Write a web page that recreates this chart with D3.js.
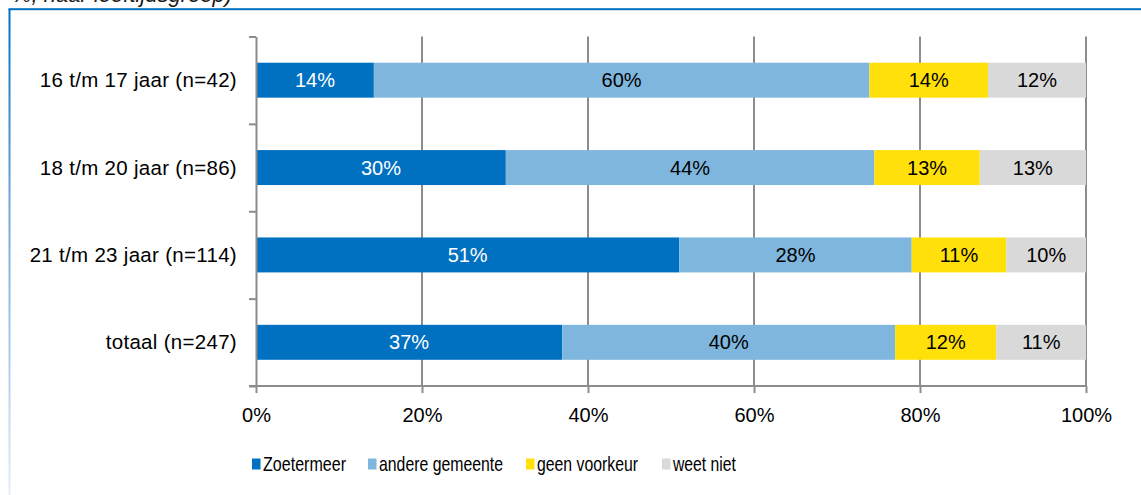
<!DOCTYPE html>
<html>
<head>
<meta charset="utf-8">
<script src="https://cdn.jsdelivr.net/npm/d3@7"></script>
<style>
  html, body { margin: 0; padding: 0; background: #fff; }
  svg { display: block; font-family: "Liberation Sans", Arial, sans-serif; }
</style>
</head>
<body>
<svg id="chart" width="1141" height="495"></svg>
<script>
const categories = ["16 t/m 17 jaar (n=42)", "18 t/m 20 jaar (n=86)", "21 t/m 23 jaar (n=114)", "totaal (n=247)"];
const seriesNames = ["Zoetermeer", "andere gemeente", "geen voorkeur", "weet niet"];
const zoetermeer = [14.2, 30.1, 51.0, 36.9];
const andereGemeente = [59.7, 44.4, 28.0, 40.1];
const geenVoorkeur = [14.3, 12.7, 11.4, 12.2];
const weetNiet = [11.8, 12.8, 9.6, 10.8];
const xTicks = [0, 20, 40, 60, 80, 100];
const titleText = "%, naar leeftijdsgroep)";

const colors = ["#0070C0", "#7FB6DE", "#FFE00A", "#D9D9D9"];
const labelColors = ["#ffffff", "#000000", "#000000", "#000000"];
const seriesValues = [zoetermeer, andereGemeente, geenVoorkeur, weetNiet];

const svg = d3.select("#chart");

// frame
const defs = svg.append("defs");
const grad = defs.append("linearGradient").attr("id", "leftGrad")
  .attr("x1", 0).attr("y1", 0).attr("x2", 0).attr("y2", 1);
grad.append("stop").attr("offset", "0%").attr("stop-color", "#0070C0");
grad.append("stop").attr("offset", "40%").attr("stop-color", "#6FA6DA");
grad.append("stop").attr("offset", "100%").attr("stop-color", "#E4EEF9");
svg.append("rect").attr("x", 8.5).attr("y", 9).attr("width", 2).attr("height", 486).attr("fill", "url(#leftGrad)");
svg.append("rect").attr("x", 8.5).attr("y", 8.2).attr("width", 1133).attr("height", 2).attr("fill", "#0070C0");

// cut-off title (only its lower part is visible in the reference)
svg.append("text").attr("x", 12).attr("y", 1.5)
  .attr("font-size", 22).attr("font-style", "italic").attr("fill", "#1a1a1a")
  .text(titleText);

const x = d3.scaleLinear().domain([0, 100]).range([256, 1086]);
const y = d3.scaleBand().domain(categories).range([36.5, 386]).paddingInner(0.6).paddingOuter(0.3);
const yb = d3.scaleLinear().domain([0, categories.length]).range([36.5, 386]);

// gridlines
svg.append("g").selectAll("line").data(xTicks.slice(1)).join("line")
  .attr("x1", d => x(d)).attr("x2", d => x(d))
  .attr("y1", 36.5).attr("y2", 386)
  .attr("stroke", "#8C8C8C").attr("stroke-width", 2);

// stacked data
const rows = categories.map((c, i) => {
  const o = { cat: c };
  seriesNames.forEach((s, j) => o[s] = seriesValues[j][i]);
  return o;
});
const stack = d3.stack().keys(seriesNames)(rows);

const layers = svg.append("g").selectAll("g").data(stack).join("g")
  .attr("fill", (d, i) => colors[i]);
layers.selectAll("rect").data(d => d).join("rect")
  .attr("x", d => x(d[0]))
  .attr("width", d => x(d[1]) - x(d[0]))
  .attr("y", d => y(d.data.cat))
  .attr("height", y.bandwidth());

// value labels
stack.forEach((layer, i) => {
  svg.append("g").selectAll("text").data(layer).join("text")
    .attr("x", d => (x(d[0]) + x(d[1])) / 2)
    .attr("y", d => y(d.data.cat) + y.bandwidth() / 2 + 7)
    .attr("text-anchor", "middle")
    .attr("font-size", 20)
    .attr("fill", labelColors[i])
    .text(d => Math.round(d[1] - d[0]) + "%");
});

// x axis
const xAxis = svg.append("g").attr("transform", "translate(0,386)")
  .call(d3.axisBottom(x).tickValues(xTicks).tickFormat(d => d + "%").tickSize(7).tickSizeOuter(0));
xAxis.select(".domain").attr("stroke", "#8C8C8C").attr("stroke-width", 2).attr("d", "M249,0H1086");
xAxis.selectAll(".tick line").attr("stroke", "#8C8C8C").attr("stroke-width", 2);
xAxis.selectAll(".tick text").attr("font-size", 20).attr("fill", "#000")
  .attr("font-family", "Liberation Sans, Arial, sans-serif").attr("dy", null).attr("y", 36);

// y axis
const yAxis = svg.append("g").attr("transform", "translate(256,0)")
  .call(d3.axisLeft(yb).ticks(categories.length).tickFormat("").tickSize(7).tickSizeOuter(0));
yAxis.select(".domain").attr("stroke", "#8C8C8C").attr("stroke-width", 2);
yAxis.selectAll(".tick line").attr("stroke", "#8C8C8C").attr("stroke-width", 2);

// category labels
svg.append("g").selectAll("text").data(categories).join("text")
  .attr("x", 237)
  .attr("y", d => y(d) + y.bandwidth() / 2 + 7)
  .attr("text-anchor", "end")
  .attr("font-size", 20.5)
  .attr("letter-spacing", 0.3)
  .attr("fill", "#000")
  .text(d => d);

// legend
const legendX = [252, 368, 526, 662];
const legendW = [83, 124, 101, 63];
const lg = svg.append("g").selectAll("g").data(seriesNames).join("g")
  .attr("transform", (d, i) => `translate(${legendX[i]},0)`);
lg.append("rect").attr("x", 0).attr("y", 458.5).attr("width", 8.5).attr("height", 11)
  .attr("fill", (d, i) => colors[i]);
lg.append("text").attr("x", 11).attr("y", 471)
  .attr("font-size", 21).attr("fill", "#000")
  .attr("textLength", (d, i) => legendW[i]).attr("lengthAdjust", "spacingAndGlyphs")
  .text(d => d);
</script>
</body>
</html>
